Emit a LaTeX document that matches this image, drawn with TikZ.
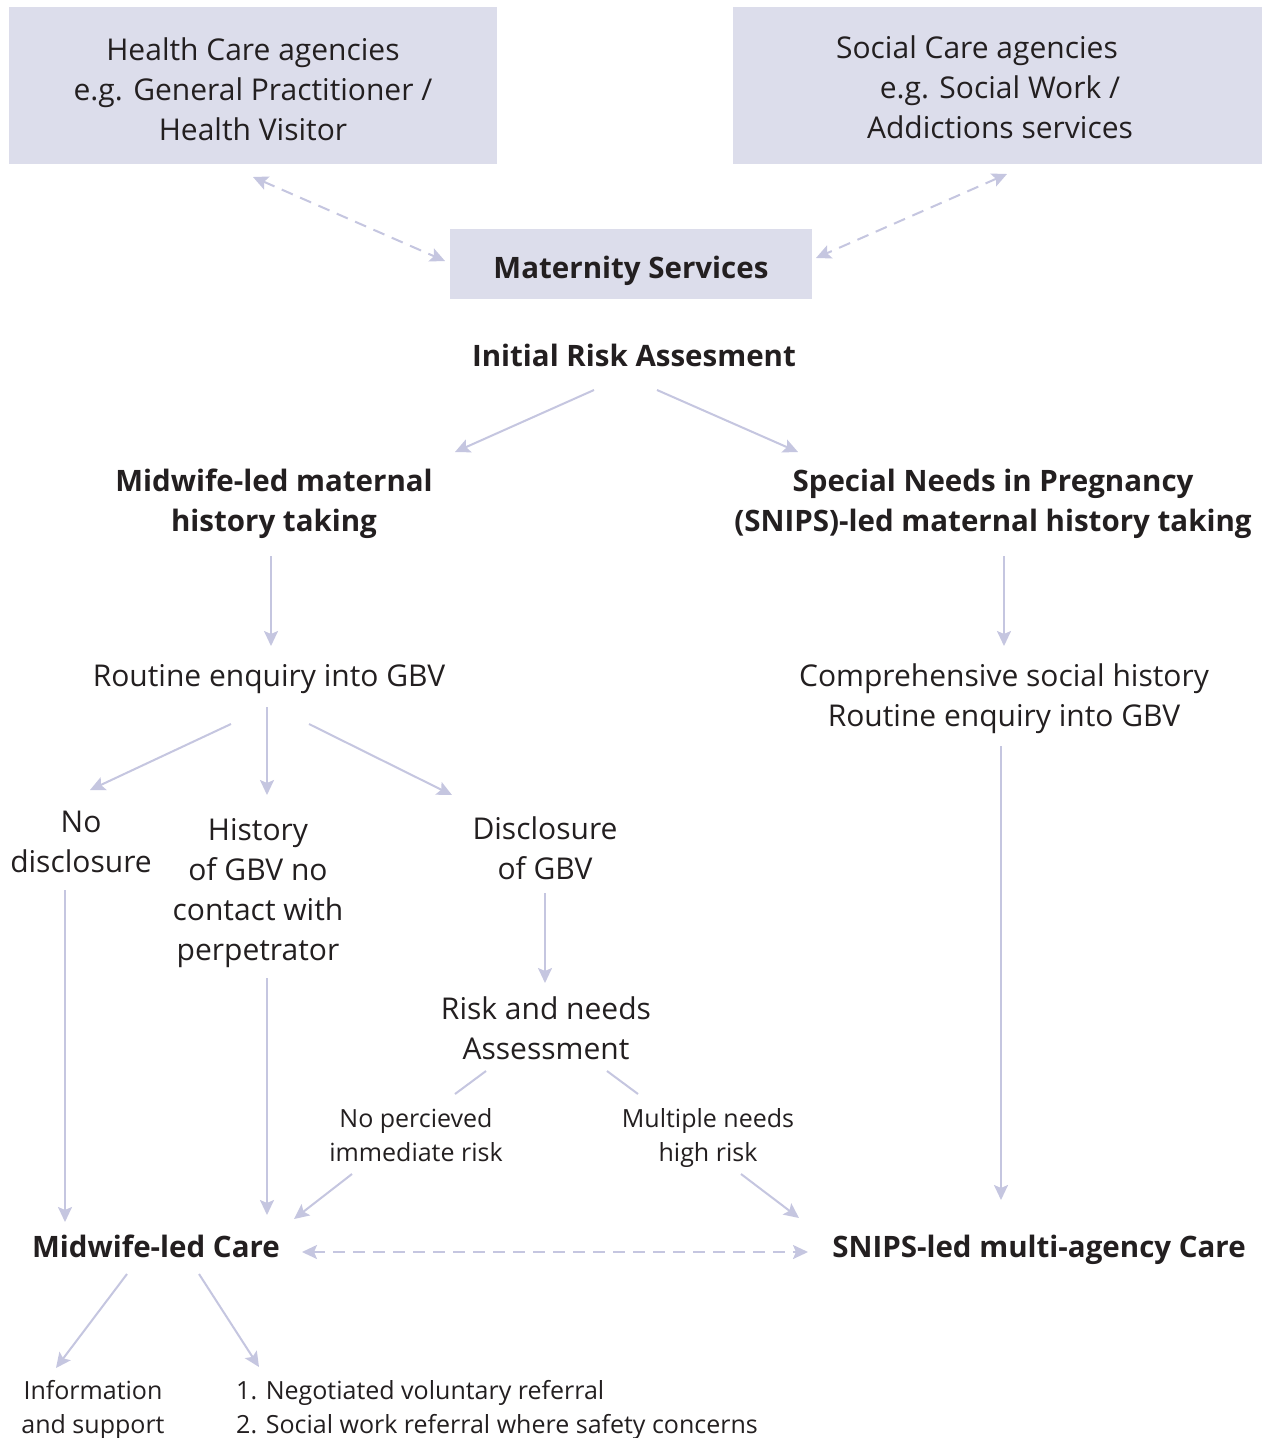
\documentclass[tikz,border=0pt]{standalone}
\usepackage{fontspec}
\setmainfont{Open Sans}
\usetikzlibrary{arrows.meta,calc}
\definecolor{boxfill}{RGB}{220,221,235}
\definecolor{arrowc}{RGB}{197,198,224}
\definecolor{txt}{RGB}{35,31,32}
\begin{document}
\begin{tikzpicture}[x=1pt,y=-1pt,
  every node/.style={text=txt,inner sep=0pt,align=center},
  big/.style={font=\fontsize{30}{40}\selectfont},
  bigb/.style={font=\fontsize{29.5}{40}\selectfont\bfseries},
  small/.style={font=\fontsize{25}{34}\selectfont},
  box/.style={fill=boxfill},
  arr/.style={draw=arrowc,line width=2pt,-{Stealth[length=15pt,width=14pt,inset=3pt]}},
  darr/.style={arr,{Stealth[length=15pt,width=14pt,inset=3pt]}-{Stealth[length=15pt,width=14pt,inset=3pt]},dash pattern=on 12pt off 8pt},
  ln/.style={draw=arrowc,line width=2pt}]
\useasboundingbox[fill=white] (0,0) rectangle (1268,1438);
% boxes
\node[box,minimum width=488pt,minimum height=157pt] (hcbox) at (253,85.5) {};
\node[big] (hc) at (253,92.5) {\strut Health Care agencies\\\strut e.g. General Practitioner /\\\strut Health Visitor};
\node[box,minimum width=529pt,minimum height=157pt] (scbox) at (997.5,85.5) {};
\node[big] (sc) at (977,90.5) {\strut Social Care agencies\\\hspace*{46pt}\strut e.g. Social Work /\\\hspace*{46pt}\strut Addictions services};
\node[box,minimum width=362pt,minimum height=70pt] (msbox) at (631,264) {};
\node[bigb] (ms) at (631,270) {\strut Maternity Services};
% text nodes
\node[bigb] (ira) at (634,358) {\strut Initial Risk Assesment};
\node[bigb] (mw) at (274,503) {\strut Midwife-led maternal\\\strut history taking};
\node[bigb] (snips) at (993,503) {\strut Special Needs in Pregnancy\\\strut (SNIPS)-led maternal history taking};
\node[big] (rt) at (269,678) {\strut Routine enquiry into GBV};
\node[big] (csh) at (1004,698) {\strut Comprehensive social history\\\strut Routine enquiry into GBV};
\node[big] (nd) at (81,844) {\strut No\\\strut disclosure};
\node[big] (hist) at (258,892) {\strut History\\\strut of GBV no\\\strut contact with\\\strut perpetrator};
\node[big] (disc) at (545,851) {\strut Disclosure\\\strut of GBV};
\node[big] (rna) at (546,1031) {\strut Risk and needs\\\strut Assessment};
\node[small] (npr) at (416,1138) {\strut No percieved\\\strut immediate risk};
\node[small] (mnr) at (708,1138) {\strut Multiple needs\\\strut high risk};
\node[bigb] (mlc) at (156,1249) {\strut Midwife-led Care};
\node[bigb] (snc) at (1039,1249) {\strut SNIPS-led multi-agency Care};
\node[small] (info) at (93,1410) {\strut Information\\\strut and support};
\node[small,anchor=west,align=left] (refs) at (236,1410) {\strut 1. Negotiated voluntary referral\\\strut 2. Social work referral where safety concerns};
% connectors
\draw[darr] ($(hcbox.center)+(0,91.5)$) -- ($(msbox.center)+(-186,-3)$);
\draw[darr] ($(scbox.center)+(9.5,88.5)$) -- ($(msbox.center)+(185,-6)$);
\draw[arr] ($(ira.center)+(-40,32)$) -- ($(mw.center)+(181,-51)$);
\draw[arr] ($(ira.center)+(23,32)$) -- ($(snips.center)+(-195,-51)$);
\draw[arr] ($(mw.center)+(-3,53)$) -- ($(rt.center)+(2,-32)$);
\draw[arr] ($(snips.center)+(11,53)$) -- ($(csh.center)+(0,-52)$);
\draw[arr] ($(rt.center)+(-38,46)$) -- ($(nd.center)+(9,-54)$);
\draw[arr] ($(rt.center)+(-2,29)$) -- ($(hist.center)+(9,-97)$);
\draw[arr] ($(rt.center)+(40,46)$) -- ($(disc.center)+(-93,-56)$);
\draw[arr] ($(nd.center)+(-16,46)$) -- ($(mlc.center)+(-91,-27)$);
\draw[arr] ($(hist.center)+(9,86)$) -- ($(mlc.center)+(111,-34)$);
\draw[arr] ($(disc.center)+(0,42)$) -- ($(rna.center)+(-1,-48)$);
\draw[ln] ($(rna.center)+(-60,40)$) -- ($(npr.center)+(39,-44)$);
\draw[ln] ($(rna.center)+(61,40)$) -- ($(mnr.center)+(-70,-44)$);
\draw[arr] ($(npr.center)+(-64,36)$) -- ($(mlc.center)+(138,-30)$);
\draw[arr] ($(mnr.center)+(33,36)$) -- ($(snc.center)+(-240,-31)$);
\draw[arr] ($(csh.center)+(-3,48)$) -- ($(snc.center)+(-38,-49)$);
\draw[darr] ($(mlc.center)+(146,3)$) -- ($(snc.center)+(-231,3)$);
\draw[arr] ($(mlc.center)+(-29,25)$) -- ($(info.center)+(-37,-42)$);
\draw[arr] ($(mlc.center)+(43,25)$) -- ($(refs.west)+(23,-43)$);
\end{tikzpicture}
\end{document}
